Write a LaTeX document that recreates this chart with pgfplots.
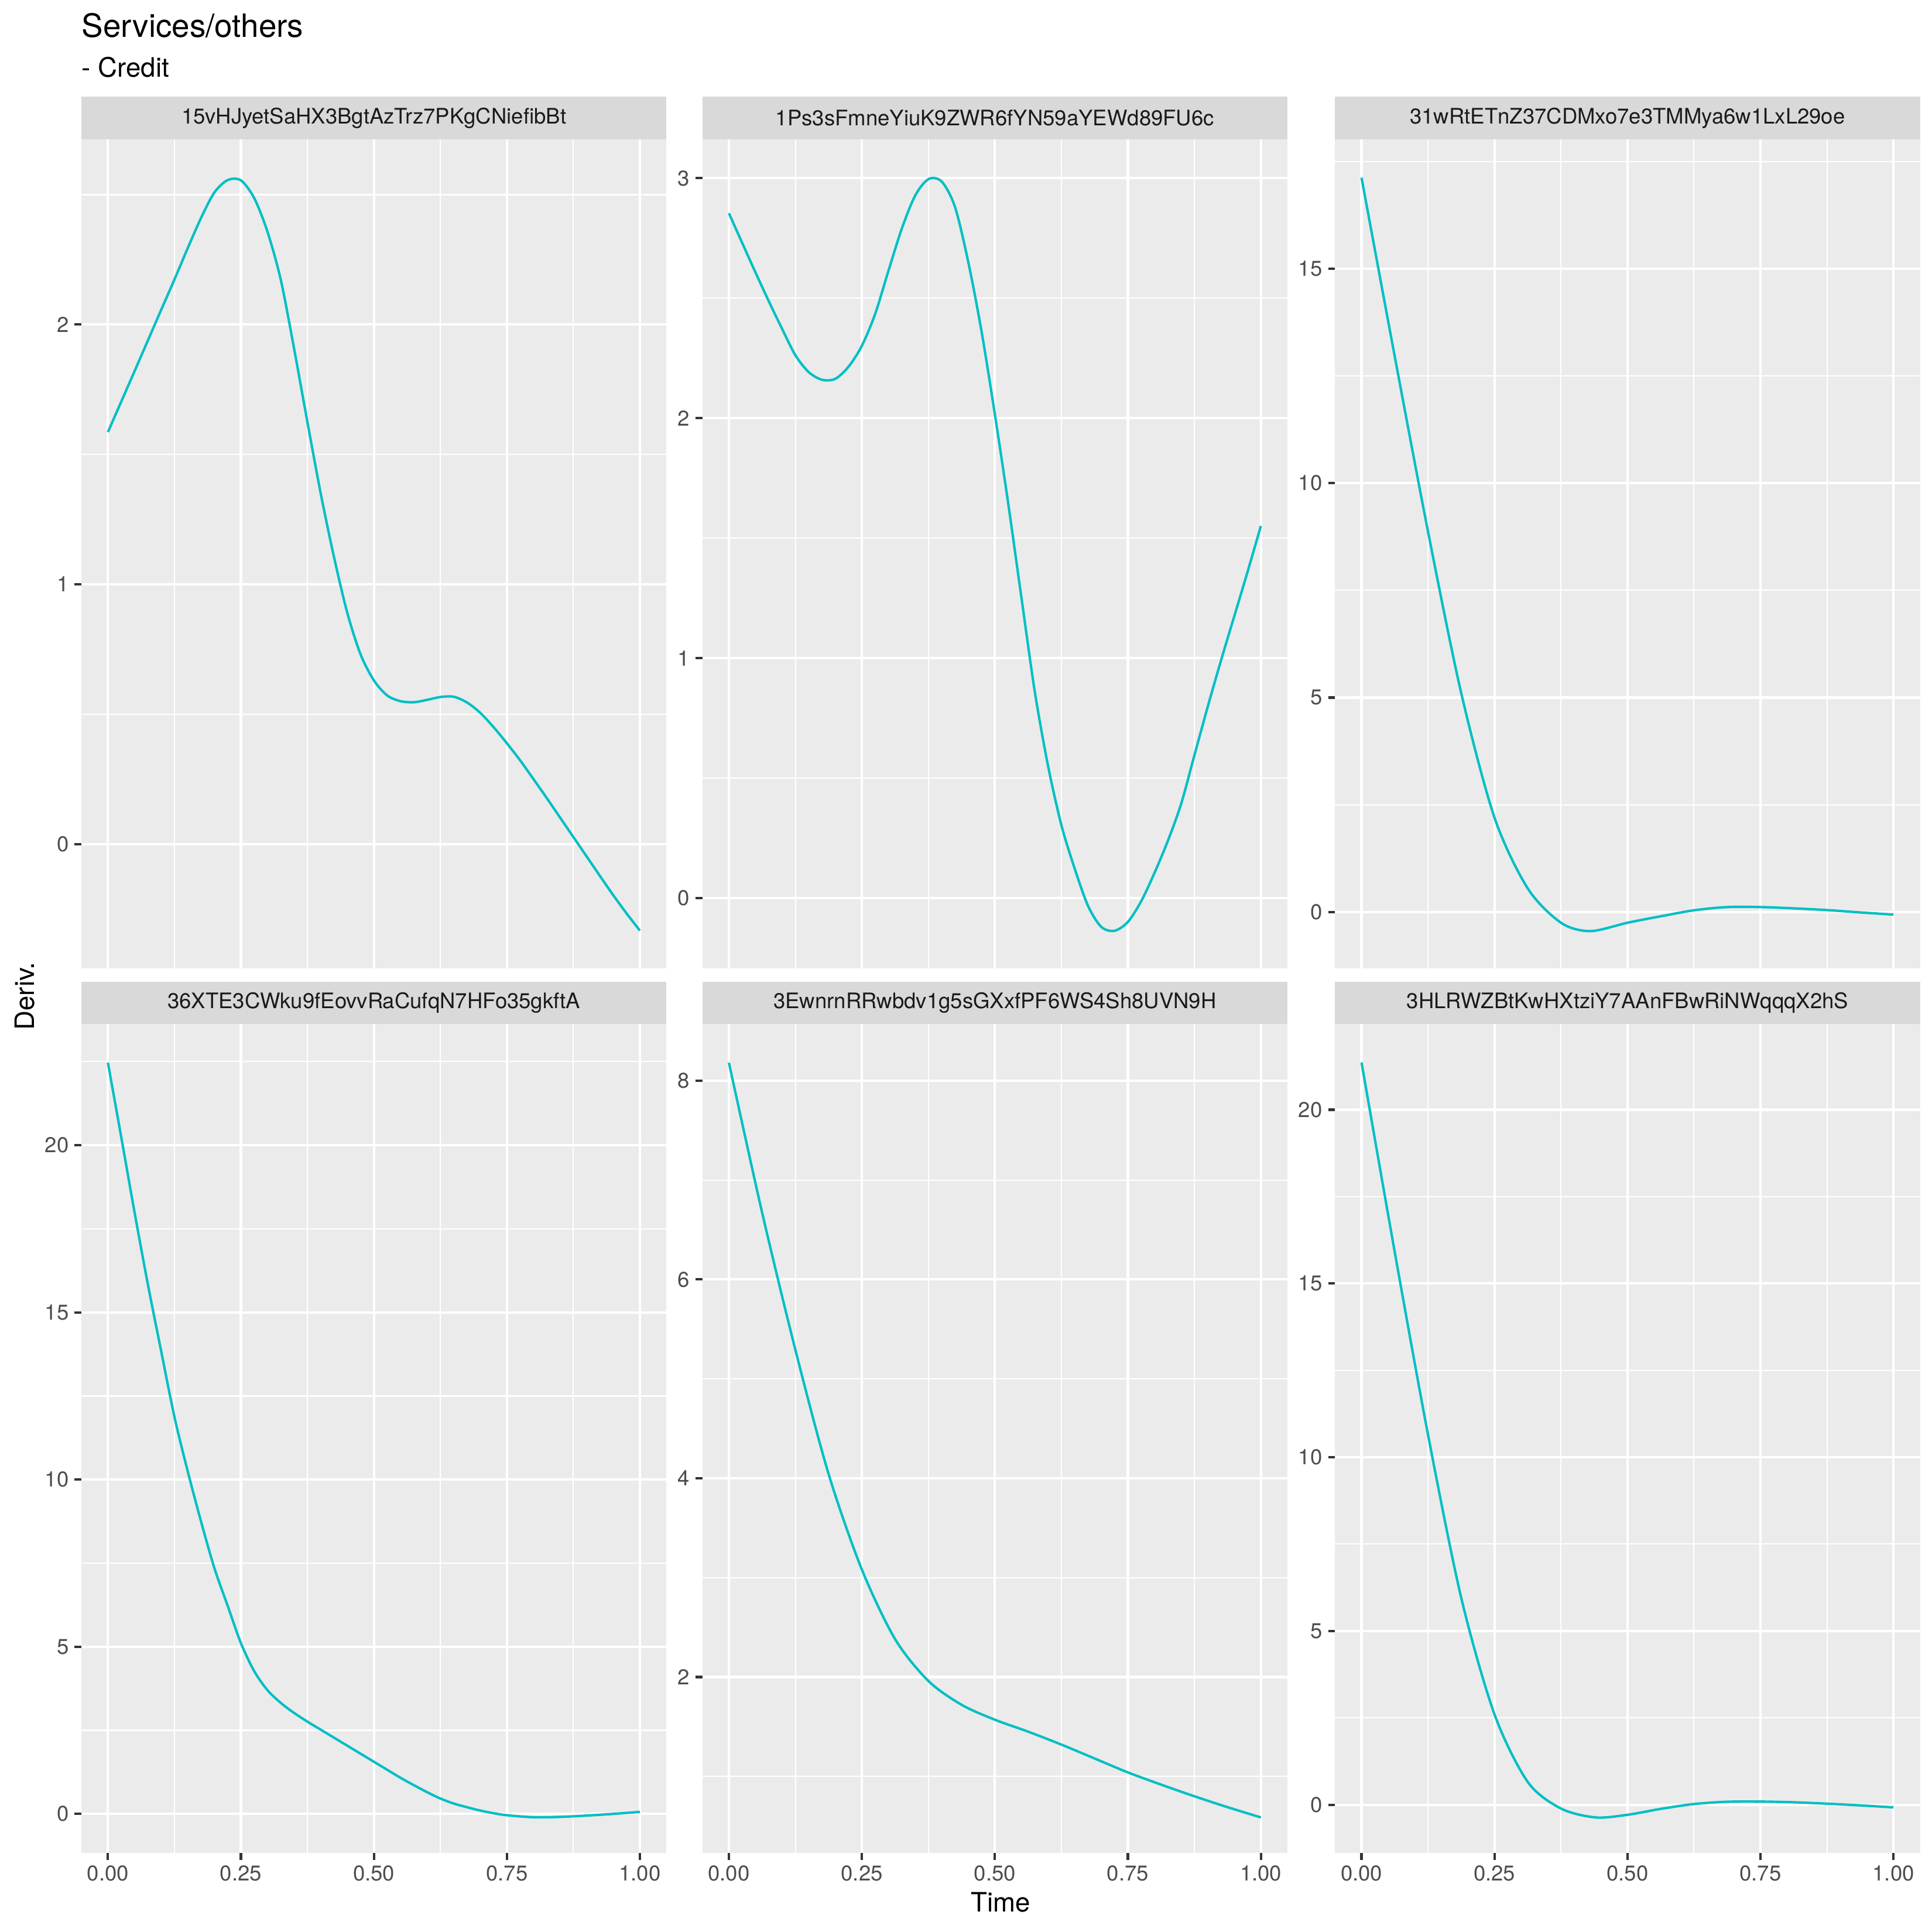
\documentclass[border=0pt]{standalone}
\usepackage{fontspec}
\setmainfont{TeX Gyre Heros}
\usepackage{pgfplots}
\pgfplotsset{compat=1.18}
\definecolor{panelbg}{HTML}{EBEBEB}
\definecolor{stripbg}{HTML}{D9D9D9}
\definecolor{striptxt}{HTML}{1A1A1A}
\definecolor{tickc}{HTML}{333333}
\definecolor{ticklab}{HTML}{4D4D4D}
\definecolor{curvec}{HTML}{00BFC4}
\pgfplotsset{
 ggpanel/.style={
  scale only axis, width=240.78pt, height=341.17pt,
  anchor=south west,
  xmin=-0.05, xmax=1.05,
  axis background/.style={fill=panelbg},
  axis line style={draw=none},
  grid=both,
  major grid style={white, line width=1.0pt},
  minor grid style={white, line width=0.5pt},
  xtick={0,0.25,0.5,0.75,1},
  minor xtick={0.125,0.375,0.625,0.875},
  major tick style={tickc, line width=1.0pt},
  major tick length=2.79pt,
  minor tick length=0pt,
  tick align=outside,
  xtick pos=bottom, ytick pos=left,
  ticklabel style={font=\fontsize{8.8}{10}\selectfont, text=ticklab, inner sep=0pt},
  yticklabel style={xshift=-2.2pt},
  xticklabel style={yshift=-2.2pt},
 },
 toprow/.style={xmajorticks=false, xticklabels={}},
 botrow/.style={xticklabels={0.00,0.25,0.50,0.75,1.00}},
 curvestyle/.style={curvec, line width=1.0pt, smooth, no marks},
}
\begin{document}
\begin{tikzpicture}
\path[use as bounding box, fill=white] (0,0) rectangle (795pt,795pt);
% titles
\node[anchor=base west, inner sep=0pt, font=\fontsize{13.2}{15}\selectfont] at (33.46pt,779.8pt) {Services/others};
\node[anchor=base west, inner sep=0pt, font=\fontsize{11}{13}\selectfont] at (33.46pt,763.3pt) {- Credit};
\node[anchor=base, inner sep=0pt, font=\fontsize{11}{13}\selectfont] at (411.7pt,8.2pt) {Time};
\node[anchor=base, rotate=90, inner sep=0pt, font=\fontsize{11}{13}\selectfont] at (14pt,385.1pt) {Deriv.};
% strips
\foreach \xx in {33.46,289.0,549.3}{
  \fill[stripbg] (\xx pt,737.76pt) rectangle ++(240.78pt,17.44pt);
  \fill[stripbg] (\xx pt,373.67pt) rectangle ++(240.78pt,17.44pt);
}
\begin{scope}[every node/.style={font=\fontsize{8.8}{10}\selectfont, text=striptxt, inner sep=0pt}]
\node at (153.85pt,746.48pt) {15vHJyetSaHX3BgtAzTrz7PKgCNiefibBt};
\node at (409.39pt,746.48pt) {1Ps3sFmneYiuK9ZWR6fYN59aYEWd89FU6c};
\node at (669.69pt,746.48pt) {31wRtETnZ37CDMxo7e3TMMya6w1LxL29oe};
\node at (153.85pt,382.39pt) {36XTE3CWku9fEovvRaCufqN7HFo35gkftA};
\node at (409.39pt,382.39pt) {3EwnrnRRwbdv1g5sGXxfPF6WS4Sh8UVN9H};
\node at (669.69pt,382.39pt) {3HLRWZBtKwHXtziY7AAnFBwRiNWqqqX2hS};
\end{scope}
% panel 1
\begin{axis}[ggpanel, toprow, at={(33.46pt,396.59pt)},
  ymin=-0.478, ymax=2.714, ytick={0,1,2}, yticklabels={0,1,2}, minor ytick={0.5,1.5,2.5}]
\addplot[curvestyle] table {
t y
0 1.586
0.025 1.703
0.05 1.82
0.075 1.938
0.1 2.056
0.125 2.173
0.15 2.294
0.175 2.41
0.2 2.508
0.225 2.556
0.25 2.555
0.275 2.487
0.3 2.357
0.325 2.172
0.35 1.907
0.375 1.625
0.4 1.35
0.425 1.105
0.45 0.89
0.475 0.73
0.5 0.63
0.525 0.572
0.55 0.55
0.575 0.546
0.6 0.555
0.625 0.566
0.65 0.567
0.675 0.545
0.7 0.505
0.725 0.45
0.75 0.388
0.775 0.322
0.8 0.25
0.825 0.177
0.85 0.102
0.875 0.027
0.9 -0.048
0.925 -0.123
0.95 -0.197
0.975 -0.267
1.0 -0.333
};
\end{axis}
% panel 2
\begin{axis}[ggpanel, toprow, at={(289.0pt,396.59pt)},
  ymin=-0.292, ymax=3.163, ytick={0,1,2,3}, yticklabels={0,1,2,3}, minor ytick={0.5,1.5,2.5}]
\addplot[curvestyle] table {
t y
0 2.854
0.025 2.73
0.05 2.607
0.075 2.487
0.1 2.372
0.125 2.262
0.15 2.192
0.175 2.16
0.2 2.164
0.225 2.215
0.25 2.302
0.275 2.435
0.3 2.615
0.325 2.79
0.35 2.927
0.375 2.996
0.4 2.986
0.425 2.88
0.45 2.65
0.475 2.36
0.5 2.015
0.525 1.645
0.55 1.25
0.575 0.86
0.6 0.55
0.625 0.304
0.65 0.123
0.675 -0.032
0.7 -0.12
0.725 -0.136
0.75 -0.099
0.775 -0.013
0.8 0.105
0.825 0.238
0.85 0.392
0.875 0.595
0.9 0.797
0.925 0.99
0.95 1.175
0.975 1.36
1.0 1.551
};
\end{axis}
% panel 3
\begin{axis}[ggpanel, toprow, at={(549.3pt,396.59pt)},
  ymin=-1.31, ymax=18.02, ytick={0,5,10,15}, yticklabels={0,5,10,15}, minor ytick={2.5,7.5,12.5,17.5}]
\addplot[curvestyle] table {
t y
0 17.12
0.0625 12.95
0.125 8.87
0.1875 5.1
0.25 2.2
0.3125 0.55
0.375 -0.25
0.43 -0.445
0.5 -0.25
0.5625 -0.10
0.625 0.04
0.6875 0.115
0.75 0.115
0.8125 0.085
0.875 0.045
0.9375 -0.01
1.0 -0.06
};
\end{axis}
% panel 4
\begin{axis}[ggpanel, botrow, at={(33.46pt,32.5pt)},
  ymin=-1.17, ymax=23.63, ytick={0,5,10,15,20}, yticklabels={0,5,10,15,20}, minor ytick={2.5,7.5,12.5,17.5,22.5}]
\addplot[curvestyle] table {
t y
0 22.47
0.025 20.25
0.05 18.0
0.075 15.85
0.1 13.85
0.125 11.88
0.15 10.25
0.175 8.75
0.2 7.36
0.225 6.23
0.25 5.11
0.275 4.27
0.3 3.70
0.325 3.32
0.35 3.02
0.375 2.76
0.4 2.52
0.425 2.28
0.45 2.04
0.475 1.80
0.5 1.56
0.525 1.32
0.55 1.08
0.575 0.86
0.6 0.65
0.625 0.46
0.65 0.31
0.675 0.20
0.7 0.10
0.725 0.02
0.75 -0.04
0.8 -0.10
0.85 -0.09
0.9 -0.05
0.95 0.0
1.0 0.06
};
\end{axis}
% panel 5
\begin{axis}[ggpanel, botrow, at={(289.0pt,32.5pt)},
  ymin=0.229, ymax=8.571, ytick={2,4,6,8}, yticklabels={2,4,6,8}, minor ytick={1,3,5,7}]
\addplot[curvestyle] table {
t y
0 8.18
0.0625 6.67
0.125 5.29
0.1875 4.04
0.25 3.08
0.3125 2.38
0.375 1.96
0.4375 1.72
0.5 1.57
0.5625 1.45
0.625 1.32
0.6875 1.18
0.75 1.04
0.8125 0.917
0.875 0.80
0.9375 0.69
1.0 0.587
};
\end{axis}
% panel 6
\begin{axis}[ggpanel, botrow, at={(549.3pt,32.5pt)},
  ymin=-1.39, ymax=22.47, ytick={0,5,10,15,20}, yticklabels={0,5,10,15,20}, minor ytick={2.5,7.5,12.5,17.5}]
\addplot[curvestyle] table {
t y
0 21.36
0.0625 15.9
0.125 10.65
0.1875 5.95
0.25 2.6
0.3125 0.656
0.375 -0.11
0.44 -0.366
0.5 -0.29
0.5625 -0.12
0.625 0.02
0.6875 0.085
0.75 0.09
0.8125 0.07
0.875 0.03
0.9375 -0.02
1.0 -0.076
};
\end{axis}
\end{tikzpicture}
\end{document}
